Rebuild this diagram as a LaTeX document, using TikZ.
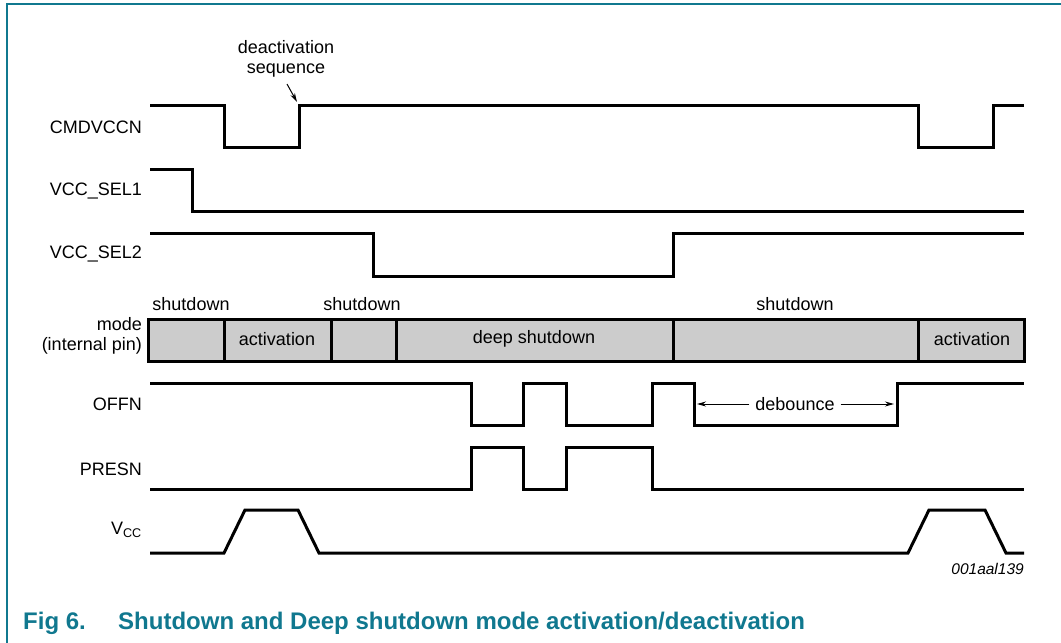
\documentclass[tikz,border=0pt]{standalone}
\usepackage{fontspec}
\setmainfont{Liberation Sans}
\usetikzlibrary{arrows.meta}
\definecolor{nxpteal}{RGB}{16,120,143}
\definecolor{modegray}{RGB}{204,204,204}
\tikzset{
  wave/.style={line width=3pt, line join=miter},
  sig/.style={anchor=east, inner sep=0pt, font=\fontsize{18}{20}\selectfont},
  lbl/.style={inner sep=0pt, font=\fontsize{18}{20}\selectfont},
  cell/.style={draw, line width=3pt, fill=modegray},
  frameline/.style={draw=nxpteal, line width=2pt},
  caption/.style={anchor=west, inner sep=0pt, text=nxpteal, font=\fontsize{24}{27}\selectfont\bfseries},
  thinarrow/.style={line width=1pt, -{Stealth[length=9pt,width=5pt]}}
}
\begin{document}
\begin{tikzpicture}[x=1pt,y=-1pt]
\useasboundingbox (0,0) rectangle (1061,643);
% frame
\draw[frameline] (1061,4) -- (7,4) -- (7,643);
% signal labels
\node[sig] (l1) at (142,127) {CMDVCCN};
\node[sig] (l2) at (142,191) {VCC\_SEL1};
\node[sig] (l3) at (142,254) {VCC\_SEL2};
\node[sig, align=right] (l4) at (142,336) {mode\\(internal pin)};
\node[sig] (l5) at (142,404) {OFFN};
\node[sig] (l6) at (142,469) {PRESN};
\node[sig] (l7) at (142,530) {V\textsubscript{CC}};
% CMDVCCN
\draw[wave] (150,105) -- (224,105) -- (224,147) -- (299,147) -- (299,105) -- (918,105) -- (918,147) -- (993,147) -- (993,105) -- (1024,105);
% deactivation sequence
\node[lbl, align=center] (deact) at (286,59) {deactivation\\sequence};
\coordinate (deacttip) at (297,102);
\draw[thinarrow] (287,84) -- (deacttip);
% VCC_SEL1
\draw[wave] (150,169) -- (192,169) -- (192,211) -- (1024,211);
% VCC_SEL2
\draw[wave] (150,233) -- (373,233) -- (373,276) -- (673,276) -- (673,233) -- (1024,233);
% mode bar
\draw[cell] (148,319) rectangle (1024,361);
\foreach \x in {224,331,396,673,918} \draw[line width=3pt] (\x,319) -- (\x,361);
\node[lbl] (m1) at (277,339) {activation};
\node[lbl] (m2) at (534,339) {deep shutdown};
\node[lbl] (m3) at (972,339) {activation};
\node[lbl] (s1) at (191,304) {shutdown};
\node[lbl] (s2) at (362,304) {shutdown};
\node[lbl] (s3) at (795,304) {shutdown};
% OFFN
\draw[wave] (150,383) -- (471,383) -- (471,425) -- (523,425) -- (523,383) -- (566,383) -- (566,425) -- (652,425) -- (652,383) -- (694,383) -- (694,425) -- (897,425) -- (897,383) -- (1024,383);
\node[lbl, fill=white, inner xsep=6pt] (deb) at (795,404) {debounce};
\coordinate (debL) at (697,404);
\coordinate (debR) at (894,404);
\draw[thinarrow] (deb.west) -- (debL);
\draw[thinarrow] (deb.east) -- (debR);
% PRESN
\draw[wave] (150,489) -- (471,489) -- (471,447) -- (523,447) -- (523,489) -- (566,489) -- (566,447) -- (652,447) -- (652,489) -- (1024,489);
% VCC
\draw[wave] (150,553) -- (224,553) -- (245,510) -- (298,510) -- (319,553) -- (908,553) -- (929,510) -- (985,510) -- (1006,553) -- (1024,553);
% id
\node[anchor=east, inner sep=0pt, font=\fontsize{15.5}{18}\selectfont\itshape] (id) at (1024,569) {001aal139};
% caption
\node[caption] (fig) at (23,623) {Fig 6.};
\node[caption] (cap) at (118,623) {Shutdown and Deep shutdown mode activation/deactivation};
\end{tikzpicture}
\end{document}
